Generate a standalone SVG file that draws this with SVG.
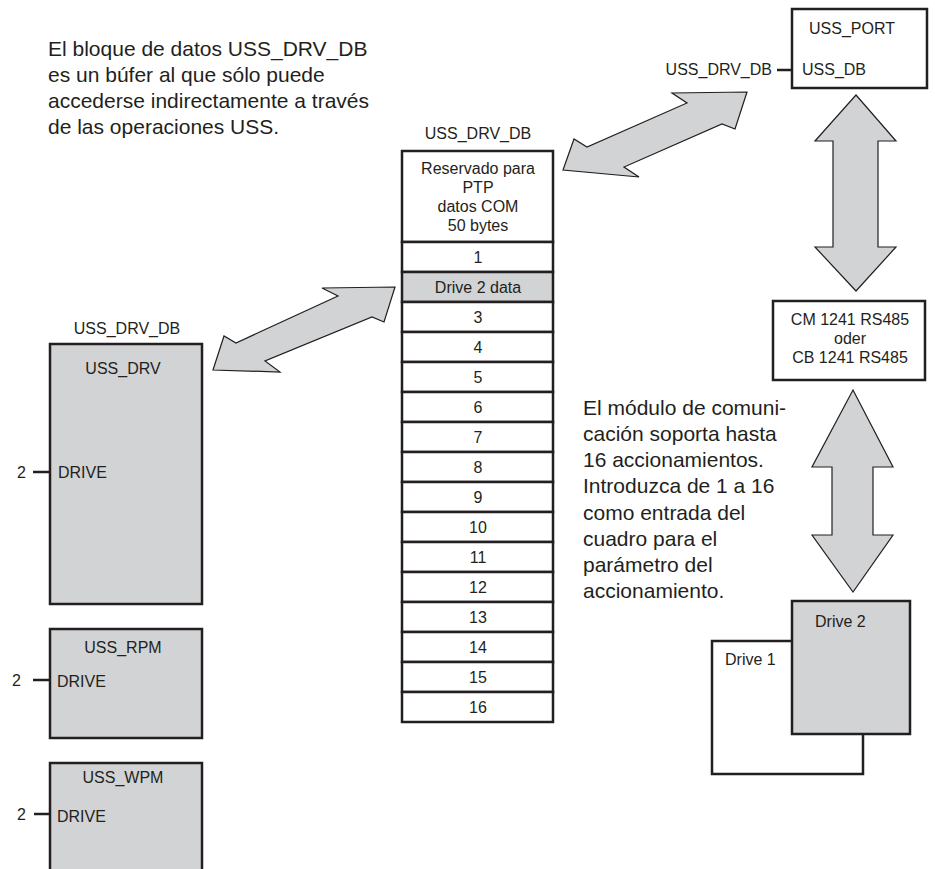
<svg xmlns="http://www.w3.org/2000/svg" width="935" height="869" viewBox="0 0 935 869">
  <style>
    text { font-family: "Liberation Sans", Arial, sans-serif; fill: #231f20; }
    .big { font-size: 21px; }
    .lbl { font-size: 16px; }
    .mid { text-anchor: middle; }
    .end { text-anchor: end; }
    .box { fill: #ffffff; stroke: #231f20; stroke-width: 2.5; }
    .gbox { fill: #d1d3d4; stroke: #231f20; stroke-width: 2.5; }
    .arrow { fill: #d1d3d4; stroke: #231f20; stroke-width: 1.2; stroke-linejoin: miter; }
    .pin { stroke: #231f20; stroke-width: 2.5; fill: none; }
  </style>

  <rect width="935" height="869" fill="#ffffff"/>

  <!-- explanatory notes -->
  <g id="note-db">
    <text class="big" x="48" y="56">El bloque de datos USS_DRV_DB</text>
    <text class="big" x="48" y="82">es un búfer al que sólo puede</text>
    <text class="big" x="48" y="108">accederse indirectamente a través</text>
    <text class="big" x="48" y="134">de las operaciones USS.</text>
  </g>
  <g id="note-module">
    <text class="big" x="583" y="415">El módulo de comuni-</text>
    <text class="big" x="583" y="441">cación soporta hasta</text>
    <text class="big" x="583" y="467">16 accionamientos.</text>
    <text class="big" x="583" y="493">Introduzca de 1 a 16</text>
    <text class="big" x="583" y="520">como entrada del</text>
    <text class="big" x="583" y="546">cuadro para el</text>
    <text class="big" x="583" y="572">parámetro del</text>
    <text class="big" x="583" y="598">accionamiento.</text>
  </g>

  <!-- connectors: double-headed block arrows -->
  <g id="connectors">
    <polygon class="arrow" points="213,370 224,336 236,343 338,296 322,288 395,287 384,322 372,317 265,361 280,372"/>
    <polygon class="arrow" points="563,170 574,139 587,147 687,103 672,93 747,92 735,129 722,124 624,167 639,177"/>
    <polygon class="arrow" points="856,95 896,141 878,141 878,247 896,247 856,291 815,247 833,247 833,141 815,141"/>
    <polygon class="arrow" points="853,390 893,467 873,467 873,535 893,535 853,592 812,535 832,535 832,467 812,467"/>
  </g>

  <!-- USS_DRV_DB data block -->
  <g id="uss-drv-db">
    <text class="lbl mid" x="478" y="139">USS_DRV_DB</text>
    <rect class="box" x="402" y="151" width="151" height="91"/>
    <text class="lbl mid" x="478" y="174">Reservado para</text>
    <text class="lbl mid" x="478" y="193">PTP</text>
    <text class="lbl mid" x="478" y="212">datos COM</text>
    <text class="lbl mid" x="478" y="231">50 bytes</text>
    <rect class="box" x="402" y="242" width="151" height="30"/>
    <text class="lbl mid" x="478" y="263">1</text>
    <rect class="gbox" x="402" y="272" width="151" height="30"/>
    <text class="lbl mid" x="478" y="293">Drive 2 data</text>
    <rect class="box" x="402" y="302" width="151" height="30"/>
    <text class="lbl mid" x="478" y="323">3</text>
    <rect class="box" x="402" y="332" width="151" height="30"/>
    <text class="lbl mid" x="478" y="353">4</text>
    <rect class="box" x="402" y="362" width="151" height="30"/>
    <text class="lbl mid" x="478" y="383">5</text>
    <rect class="box" x="402" y="392" width="151" height="30"/>
    <text class="lbl mid" x="478" y="413">6</text>
    <rect class="box" x="402" y="422" width="151" height="30"/>
    <text class="lbl mid" x="478" y="443">7</text>
    <rect class="box" x="402" y="452" width="151" height="30"/>
    <text class="lbl mid" x="478" y="473">8</text>
    <rect class="box" x="402" y="482" width="151" height="30"/>
    <text class="lbl mid" x="478" y="503">9</text>
    <rect class="box" x="402" y="512" width="151" height="30"/>
    <text class="lbl mid" x="478" y="533">10</text>
    <rect class="box" x="402" y="542" width="151" height="30"/>
    <text class="lbl mid" x="478" y="563">11</text>
    <rect class="box" x="402" y="572" width="151" height="30"/>
    <text class="lbl mid" x="478" y="593">12</text>
    <rect class="box" x="402" y="602" width="151" height="30"/>
    <text class="lbl mid" x="478" y="623">13</text>
    <rect class="box" x="402" y="632" width="151" height="30"/>
    <text class="lbl mid" x="478" y="653">14</text>
    <rect class="box" x="402" y="662" width="151" height="30"/>
    <text class="lbl mid" x="478" y="683">15</text>
    <rect class="box" x="402" y="692" width="151" height="30"/>
    <text class="lbl mid" x="478" y="713">16</text>
  </g>

  <!-- USS_DRV instruction -->
  <g id="uss-drv">
    <text class="lbl mid" x="127" y="334">USS_DRV_DB</text>
    <rect class="gbox" x="50" y="344" width="152" height="260"/>
    <text class="lbl mid" x="123" y="374">USS_DRV</text>
    <text class="lbl" x="58" y="478">DRIVE</text>
    <line class="pin" x1="33" y1="472" x2="49" y2="472"/>
    <text class="lbl" x="17" y="478">2</text>
  </g>

  <!-- USS_RPM instruction -->
  <g id="uss-rpm">
    <rect class="gbox" x="50" y="629" width="152" height="109"/>
    <text class="lbl mid" x="123" y="653">USS_RPM</text>
    <text class="lbl" x="57" y="687">DRIVE</text>
    <line class="pin" x1="33" y1="680" x2="49" y2="680"/>
    <text class="lbl" x="12" y="686">2</text>
  </g>

  <!-- USS_WPM instruction -->
  <g id="uss-wpm">
    <rect class="gbox" x="50" y="763" width="152" height="120"/>
    <text class="lbl mid" x="123" y="783">USS_WPM</text>
    <text class="lbl" x="57" y="822">DRIVE</text>
    <line class="pin" x1="34" y1="814" x2="49" y2="814"/>
    <text class="lbl" x="17" y="820">2</text>
  </g>

  <!-- USS_PORT instruction -->
  <g id="uss-port">
    <rect class="box" x="792" y="9" width="135" height="79"/>
    <text class="lbl mid" x="852" y="34">USS_PORT</text>
    <text class="lbl" x="802" y="75">USS_DB</text>
    <line class="pin" x1="777" y1="70" x2="791" y2="70"/>
    <text class="lbl end" x="772" y="75">USS_DRV_DB</text>
  </g>

  <!-- communication module -->
  <g id="comm-module">
    <rect class="box" x="773" y="301" width="152" height="79"/>
    <text class="lbl mid" x="850" y="325">CM 1241 RS485</text>
    <text class="lbl mid" x="850" y="344">oder</text>
    <text class="lbl mid" x="850" y="363">CB 1241 RS485</text>
  </g>

  <!-- drives -->
  <g id="drive-1">
    <rect class="box" x="712" y="641" width="151" height="133"/>
    <text class="lbl" x="725" y="665">Drive 1</text>
  </g>
  <g id="drive-2">
    <rect class="gbox" x="792" y="601" width="118" height="133"/>
    <text class="lbl" x="815" y="627">Drive 2</text>
  </g>
</svg>
